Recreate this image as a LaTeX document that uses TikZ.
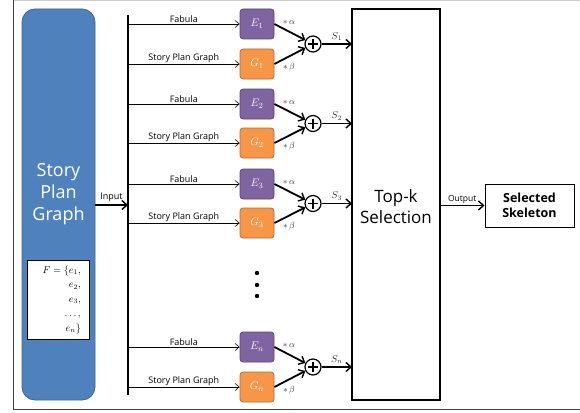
\documentclass[tikz,border=0pt]{standalone}
\usepackage{fontspec}
\setmainfont{Open Sans}
\usetikzlibrary{arrows.meta,calc}
\definecolor{sblue}{HTML}{4F81BD}
\definecolor{sblued}{HTML}{3A6597}
\definecolor{epurple}{HTML}{8064A2}
\definecolor{epurpled}{HTML}{5C4776}
\definecolor{gorange}{HTML}{F79646}
\definecolor{goranged}{HTML}{B66D31}
\begin{document}
\begin{tikzpicture}[x=1pt,y=-1pt,
  thinarrow/.style={-{Straight Barb[length=4pt,width=7pt]}, line width=0.6pt},
  thickarrow/.style={-{Straight Barb[length=5pt,width=9pt,line width=1.4pt]}, line width=1.8pt},
  ebox/.style={rounded corners=3pt, fill=epurple, draw=epurpled, line width=0.8pt, minimum width=34pt, minimum height=30pt, text=white, inner sep=0pt, font=\fontsize{11}{12}\selectfont},
  gbox/.style={rounded corners=3pt, fill=gorange, draw=goranged, line width=0.8pt, minimum width=34pt, minimum height=30pt, text=white, inner sep=0pt, font=\fontsize{11}{12}\selectfont},
  plusnode/.style={circle, draw, line width=1.2pt, minimum size=16pt, inner sep=0pt, fill=white},
  smalllab/.style={font=\fontsize{9}{10}\selectfont, inner sep=1pt},
  coef/.style={font=\fontsize{9}{10}\selectfont, inner sep=0pt, text=black!80}
]
\useasboundingbox (0,0) rectangle (580,412);
% frame
\draw[black!20, line width=0.8pt] (13,0.5) -- (580,0.5);
\draw[black!75, line width=1pt] (13,0) -- (13,409) -- (580,409);

% left blue box
\node[rounded corners=13pt, fill=sblue, draw=sblued, line width=0.8pt, minimum width=73pt, minimum height=391pt, inner sep=0pt] (spg) at (58.5,204.5) {};
\node[text=white, align=center, font=\fontsize{18}{22}\selectfont] (spgtext) at (58.5,194) {Story\\Plan\\Graph};
\node[fill=white, draw=black, line width=0.6pt, minimum width=62pt, minimum height=79pt, inner sep=0pt] (fbox) at (58,299.5) {};
\node[align=right, font=\fontsize{10}{14.5}\selectfont, anchor=east, inner sep=0pt] (ftext) at (81,299.5)
  {$F=\{e_1,$\\ $e_2,$\\ $e_3,$\\ $\ldots,$\\ $e_n\}$};

% bus
\coordinate (bustop) at (128,15);
\coordinate (busbot) at (128,395);
\draw[line width=1.8pt] (bustop) -- (busbot);
\coordinate (inB) at (128,205);
\coordinate (inA) at (95,205);
\draw[thickarrow] (inA) -- (inB) node[smalllab, midway, above, yshift=1pt] (inlab) {Input};

% top-k
\node[draw, line width=1.6pt, minimum width=88pt, minimum height=391pt, inner sep=0pt] (topk) at (396,204.5) {};
\node[align=center, font=\fontsize{17}{21}\selectfont] (topktext) at (396,207) {Top-k\\Selection};

% output
\node[draw, line width=1pt, minimum width=89pt, minimum height=43pt, align=center, font=\bfseries\fontsize{12.5}{15}\selectfont] (sel) at (529.5,205.5) {Selected\\Skeleton};
\coordinate (outA) at (440,205.5);
\draw[thickarrow] (outA) -- (sel.west) node[font=\fontsize{8.5}{9}\selectfont, midway, above, inner sep=1.5pt] (outlab) {Output};

% rows
\foreach \i/\ey/\gy in {1/24/64, 2/104/143, 3/184/223, n/347/387}{
  \node[ebox] (E\i) at (257,\ey) {$E_{\i}$};
  \node[gbox] (G\i) at (257,\gy) {$G_{\i}$};
  \coordinate (bE\i) at (128,\ey);
  \coordinate (bG\i) at (128,\gy);
  \draw[thinarrow] (bE\i) -- (E\i.west) node[smalllab, midway, above] {Fabula};
  \draw[thinarrow] (bG\i) -- (G\i.west) node[smalllab, midway, above] {Story Plan Graph};
  \node[plusnode] (P\i) at (313,{(\ey+\gy)/2}) {};
  \draw[line width=1.1pt] ($(P\i)+(-5,0)$) -- ($(P\i)+(5,0)$) ($(P\i)+(0,-5)$) -- ($(P\i)+(0,5)$);
  \draw[thickarrow] (E\i.east) -- (P\i);
  \draw[thickarrow] (G\i.east) -- (P\i);
  \node[coef] (ca\i) at (289,{\ey-2}) {$*\,\alpha$};
  \node[coef] (cb\i) at (289,{\gy+3}) {$*\,\beta$};
  \coordinate (T\i) at (352,{(\ey+\gy)/2});
  \draw[thickarrow] (P\i) -- (T\i) node[coef, midway, above, inner sep=2.5pt, font=\fontsize{10}{11}\selectfont] {$S_{\i}$};
}

% dots
\foreach \k/\yy in {1/273, 2/285, 3/296}{
  \fill (257,\yy) circle (2.2pt) coordinate (dot\k);
}
\end{tikzpicture}
\end{document}
